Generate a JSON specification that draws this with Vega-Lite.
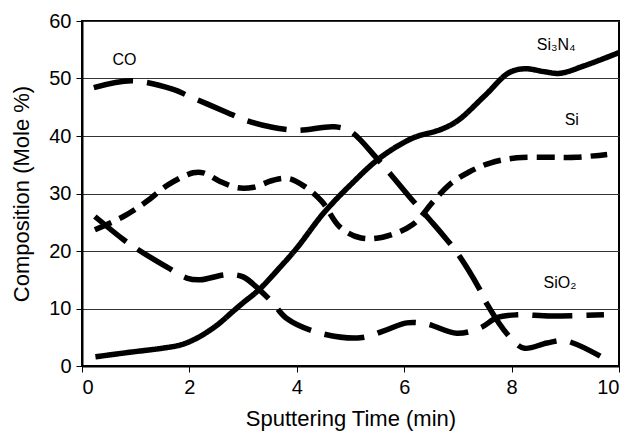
{
  "$schema": "https://vega.github.io/schema/vega-lite/v6.json",
  "width": 537,
  "height": 345,
  "autosize": {"type": "none"},
  "padding": {"left": 82, "top": 21, "right": 15, "bottom": 66},
  "background": "white",
  "config": {
    "font": "Liberation Sans",
    "view": {"stroke": "black", "strokeWidth": 2},
    "axis": {
      "labelFont": "Liberation Sans",
      "titleFont": "Liberation Sans",
      "labelColor": "black",
      "titleColor": "black",
      "titleFontWeight": "normal",
      "domainColor": "black",
      "domainWidth": 2,
      "tickColor": "black",
      "tickWidth": 1,
      "tickSize": 6,
      "labelFontSize": 20,
      "titleFontSize": 22
    }
  },
  "datasets": {
    "curves": [
      {"series": "Si3N4", "t": 0.25, "c": 1.6},
      {"series": "Si3N4", "t": 0.9, "c": 2.4},
      {"series": "Si3N4", "t": 1.5, "c": 3.1},
      {"series": "Si3N4", "t": 1.85, "c": 3.7},
      {"series": "Si3N4", "t": 2.15, "c": 4.9},
      {"series": "Si3N4", "t": 2.5, "c": 7.0},
      {"series": "Si3N4", "t": 2.8, "c": 9.4},
      {"series": "Si3N4", "t": 3.0, "c": 11.0},
      {"series": "Si3N4", "t": 3.3, "c": 13.3},
      {"series": "Si3N4", "t": 3.7, "c": 17.3},
      {"series": "Si3N4", "t": 4.0, "c": 20.5},
      {"series": "Si3N4", "t": 4.5, "c": 26.6},
      {"series": "Si3N4", "t": 5.0, "c": 31.5},
      {"series": "Si3N4", "t": 5.55, "c": 36.2},
      {"series": "Si3N4", "t": 6.15, "c": 39.6},
      {"series": "Si3N4", "t": 6.7, "c": 41.2},
      {"series": "Si3N4", "t": 7.0, "c": 42.7},
      {"series": "Si3N4", "t": 7.5, "c": 47.0},
      {"series": "Si3N4", "t": 7.95, "c": 51.0},
      {"series": "Si3N4", "t": 8.25, "c": 51.7},
      {"series": "Si3N4", "t": 8.6, "c": 51.2},
      {"series": "Si3N4", "t": 8.9, "c": 50.9},
      {"series": "Si3N4", "t": 9.35, "c": 52.2},
      {"series": "Si3N4", "t": 10.0, "c": 54.5},
      {"series": "CO", "t": 0.22, "c": 48.4},
      {"series": "CO", "t": 0.93, "c": 49.6},
      {"series": "CO", "t": 1.7, "c": 48.1},
      {"series": "CO", "t": 2.0, "c": 46.9},
      {"series": "CO", "t": 2.7, "c": 44.1},
      {"series": "CO", "t": 3.0, "c": 42.9},
      {"series": "CO", "t": 3.5, "c": 41.6},
      {"series": "CO", "t": 4.0, "c": 41.0},
      {"series": "CO", "t": 4.7, "c": 41.6},
      {"series": "CO", "t": 5.0, "c": 40.8},
      {"series": "CO", "t": 5.5, "c": 36.0},
      {"series": "CO", "t": 5.75, "c": 33.3},
      {"series": "CO", "t": 6.1, "c": 29.4},
      {"series": "CO", "t": 6.48, "c": 25.4},
      {"series": "CO", "t": 6.72, "c": 22.8},
      {"series": "CO", "t": 7.0, "c": 19.5},
      {"series": "CO", "t": 7.39, "c": 13.6},
      {"series": "CO", "t": 7.54, "c": 10.8},
      {"series": "CO", "t": 7.95, "c": 5.2},
      {"series": "CO", "t": 8.23, "c": 3.1},
      {"series": "CO", "t": 8.66, "c": 4.0},
      {"series": "CO", "t": 9.0, "c": 4.4},
      {"series": "CO", "t": 9.65, "c": 1.7},
      {"series": "Si", "t": 0.24, "c": 23.7},
      {"series": "Si", "t": 0.77, "c": 26.0},
      {"series": "Si", "t": 1.2, "c": 28.6},
      {"series": "Si", "t": 1.6, "c": 31.5},
      {"series": "Si", "t": 2.07, "c": 33.6},
      {"series": "Si", "t": 2.26, "c": 33.6},
      {"series": "Si", "t": 2.57, "c": 32.1},
      {"series": "Si", "t": 2.9, "c": 31.0},
      {"series": "Si", "t": 3.2, "c": 31.1},
      {"series": "Si", "t": 3.56, "c": 32.3},
      {"series": "Si", "t": 3.85, "c": 32.6},
      {"series": "Si", "t": 4.15, "c": 31.2},
      {"series": "Si", "t": 4.47, "c": 28.6},
      {"series": "Si", "t": 4.8, "c": 24.2},
      {"series": "Si", "t": 5.18, "c": 22.3},
      {"series": "Si", "t": 5.6, "c": 22.4},
      {"series": "Si", "t": 6.16, "c": 24.6},
      {"series": "Si", "t": 6.54, "c": 28.6},
      {"series": "Si", "t": 6.85, "c": 31.6},
      {"series": "Si", "t": 7.2, "c": 33.7},
      {"series": "Si", "t": 7.6, "c": 35.3},
      {"series": "Si", "t": 8.1, "c": 36.2},
      {"series": "Si", "t": 8.7, "c": 36.3},
      {"series": "Si", "t": 9.2, "c": 36.3},
      {"series": "Si", "t": 9.78, "c": 36.8},
      {"series": "SiO2", "t": 0.24, "c": 26.0},
      {"series": "SiO2", "t": 0.77, "c": 22.0},
      {"series": "SiO2", "t": 1.0, "c": 20.5},
      {"series": "SiO2", "t": 1.6, "c": 17.1},
      {"series": "SiO2", "t": 1.95, "c": 15.3},
      {"series": "SiO2", "t": 2.2, "c": 15.0},
      {"series": "SiO2", "t": 2.7, "c": 15.9},
      {"series": "SiO2", "t": 3.0, "c": 15.5},
      {"series": "SiO2", "t": 3.31, "c": 13.2},
      {"series": "SiO2", "t": 3.54, "c": 11.1},
      {"series": "SiO2", "t": 3.82, "c": 8.2},
      {"series": "SiO2", "t": 4.4, "c": 5.8},
      {"series": "SiO2", "t": 5.18, "c": 4.9},
      {"series": "SiO2", "t": 5.62, "c": 6.1},
      {"series": "SiO2", "t": 6.05, "c": 7.5},
      {"series": "SiO2", "t": 6.42, "c": 7.3},
      {"series": "SiO2", "t": 6.98, "c": 5.7},
      {"series": "SiO2", "t": 7.41, "c": 6.6},
      {"series": "SiO2", "t": 7.73, "c": 8.4},
      {"series": "SiO2", "t": 8.1, "c": 8.9},
      {"series": "SiO2", "t": 8.72, "c": 8.7},
      {"series": "SiO2", "t": 9.72, "c": 8.9}
    ],
    "labels": [
      {"label": "CO", "t": 0.79, "c": 52.4},
      {"label": "Si₃N₄", "t": 8.83, "c": 54.9},
      {"label": "Si", "t": 9.12, "c": 42.0},
      {"label": "SiO₂", "t": 8.9, "c": 13.6}
    ]
  },
  "layer": [
    {
      "data": {"name": "curves"},
      "mark": {"type": "line", "interpolate": "catmull-rom", "color": "black", "strokeWidth": 5.5, "strokeCap": "butt"},
      "encoding": {
        "x": {
          "field": "t", "type": "quantitative",
          "scale": {"domain": [0, 10], "nice": false},
          "axis": {"title": "Sputtering Time (min)", "values": [0, 2, 4, 6, 8, 10], "grid": false, "labelPadding": 5, "titlePadding": 11}
        },
        "y": {
          "field": "c", "type": "quantitative",
          "scale": {"domain": [0, 60], "nice": false},
          "axis": {"title": "Composition (Mole %)", "values": [0, 10, 20, 30, 40, 50, 60], "grid": true, "gridColor": "#333333", "gridWidth": 1, "gridOpacity": 1, "labelPadding": 5, "titlePadding": 15}
        },
        "detail": {"field": "series"},
        "strokeDash": {
          "field": "series", "type": "nominal",
          "scale": {"domain": ["Si3N4", "CO", "Si", "SiO2"], "range": [[1, 0], [40, 14], [18, 9], [40, 14]]},
          "legend": null
        }
      }
    },
    {
      "data": {"name": "labels"},
      "mark": {"type": "text", "fontSize": 16, "color": "black", "align": "center", "baseline": "alphabetic", "font": "Liberation Sans"},
      "encoding": {
        "x": {"field": "t", "type": "quantitative"},
        "y": {"field": "c", "type": "quantitative"},
        "text": {"field": "label"}
      }
    }
  ]
}
